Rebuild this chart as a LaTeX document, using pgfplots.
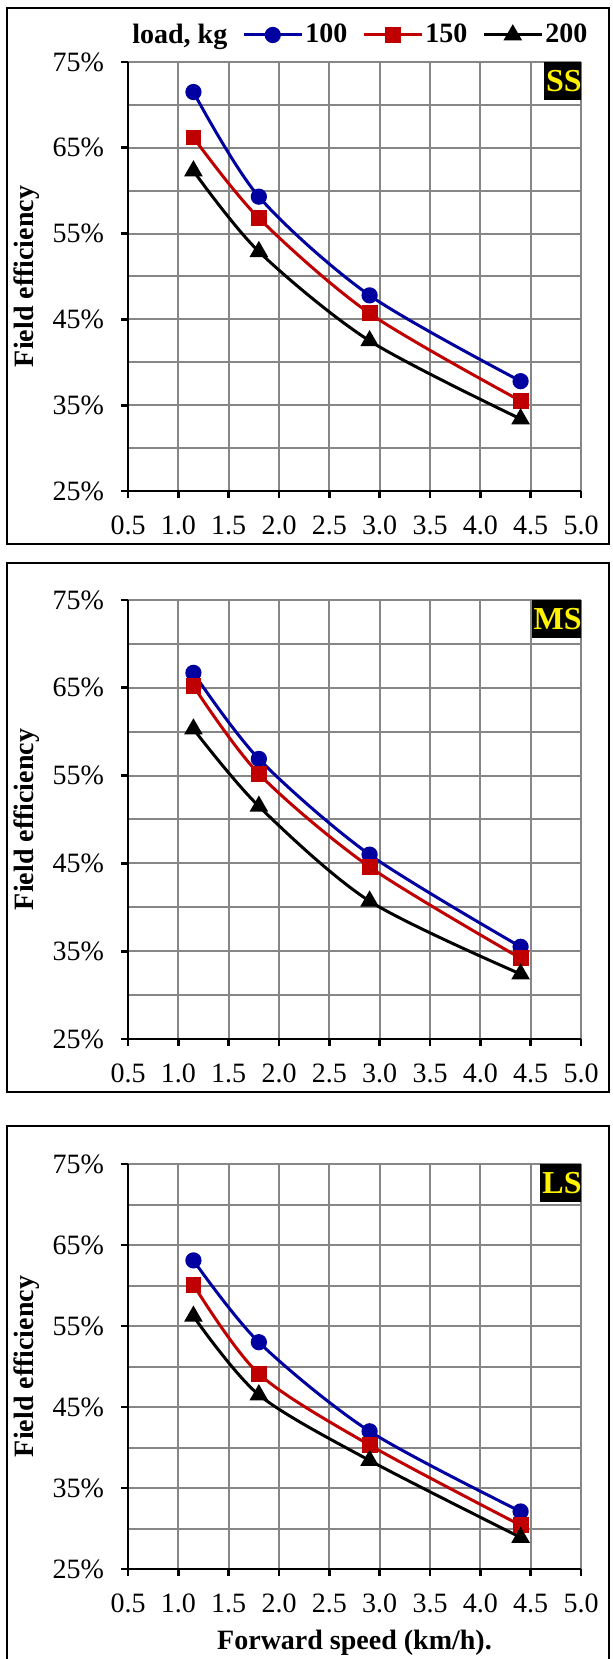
\documentclass[border=0pt]{standalone}
\usepackage{fontspec}
\setmainfont{Liberation Serif}
\usepackage{pgfplots}
\pgfplotsset{compat=1.18}
\definecolor{sblue}{RGB}{0,0,160}
\definecolor{sred}{RGB}{192,0,0}
\definecolor{gridgray}{RGB}{134,134,134}
\tikzset{tag/.style={anchor=north east, fill=black, text=yellow, font=\bfseries\fontsize{16bp}{18bp}\selectfont, inner sep=1bp, minimum height=19bp, xshift=1.5bp}}
\pgfplotsset{
  panel/.style={
    scale only axis, width=226.5bp,
    xmin=0.5, xmax=5, ymin=25, ymax=75,
    xtick={0.5,1.0,1.5,2.0,2.5,3.0,3.5,4.0,4.5,5.0},
    ytick={25,35,45,55,65,75}, minor ytick={30,40,50,60,70},
    grid=both,
    major grid style={gridgray, line width=1bp},
    minor grid style={gridgray, line width=1bp},
    axis x line=bottom, axis y line=left,
    axis line style={-, line width=1.4bp, black},
    tick align=outside, major tick length=3.5bp, minor tick length=0pt,
    tick style={black, line width=1.4bp},
    xticklabel={\pgfmathprintnumber[fixed,fixed zerofill,precision=1]{\tick}},
    yticklabel={\pgfmathprintnumber{\tick}\%},
    /pgf/number format/assume math mode=true,
    ticklabel style={font=\fontsize{14bp}{16bp}\selectfont},
    xticklabel style={yshift=-5.5bp},
    yticklabel style={xshift=-5bp},
    ylabel={Field efficiency},
    every axis y label/.style={at={(rel axis cs:0,0.5)}, rotate=90, anchor=center, yshift=50.5bp, font=\bfseries\fontsize{14bp}{16bp}\selectfont},
    every axis x label/.style={at={(rel axis cs:0.5,0)}, anchor=center, yshift=-37bp, font=\bfseries\fontsize{14bp}{16bp}\selectfont},
    legend image code/.code={\draw[mark repeat=2,mark phase=2] plot coordinates {(0bp,0bp) (14.5bp,0bp) (29bp,0bp)};},
  },
  s100/.style={sblue, line width=1.5bp, smooth, mark=*, mark size=3.3bp, mark options={solid}},
  s150/.style={sred, line width=1.5bp, smooth, mark=square*, mark size=3.2bp, mark options={solid}},
  s200/.style={black, line width=1.5bp, smooth, mark=triangle*, mark size=3.9bp, mark options={solid}},
}
\begin{document}
\begin{tikzpicture}
\useasboundingbox (0,0) rectangle (306.5bp,829.5bp);
% Panel SS
\begin{axis}[panel, at={(64bp,584bp)}, anchor=south west, height=214.5bp,
  legend style={draw=none, fill=none, legend columns=-1, at={(rel axis cs:0,1)}, anchor=west, yshift=13.5bp, xshift=-2bp,
    font=\bfseries\fontsize{14bp}{16bp}\selectfont, nodes={inner sep=1bp},
    /tikz/every even column/.append style={column sep=6.5bp}}]
\addlegendimage{empty legend}\addlegendentry{load, kg}
\addplot[s100] coordinates {(1.15,71.5) (1.8,59.3) (2.9,47.8) (4.4,37.8)};
\addlegendentry{100}
\addplot[s150] coordinates {(1.15,66.2) (1.8,56.8) (2.9,45.7) (4.4,35.5)};
\addlegendentry{150}
\addplot[s200] coordinates {(1.15,62.3) (1.8,52.9) (2.9,42.5) (4.4,33.4)};
\addlegendentry{200}
\node[tag] at (rel axis cs:1,1) {SS};
\end{axis}
% Panel MS
\begin{axis}[panel, at={(64bp,310bp)}, anchor=south west, height=219.5bp]
\addplot[s100] coordinates {(1.15,66.7) (1.8,56.9) (2.9,46.0) (4.4,35.5)};
\addplot[s150] coordinates {(1.15,65.2) (1.8,55.2) (2.9,44.6) (4.4,34.2)};
\addplot[s200] coordinates {(1.15,60.3) (1.8,51.5) (2.9,40.7) (4.4,32.4)};
\node[tag] at (rel axis cs:1,1) {MS};
\end{axis}
% Panel LS
\begin{axis}[panel, at={(64bp,45bp)}, anchor=south west, height=202.5bp, xlabel={Forward speed (km/h).}]
\addplot[s100] coordinates {(1.15,63.1) (1.8,53.0) (2.9,42.0) (4.4,32.1)};
\addplot[s150] coordinates {(1.15,60.1) (1.8,49.1) (2.9,40.3) (4.4,30.4)};
\addplot[s200] coordinates {(1.15,56.2) (1.8,46.5) (2.9,38.4) (4.4,28.9)};
\node[tag] at (rel axis cs:1,1) {LS};
\end{axis}
% Frames
\draw[line width=1.35bp] (3.5bp,557.5bp) rectangle (304.5bp,825.5bp);
\draw[line width=1.35bp] (3.5bp,283.5bp) rectangle (304.5bp,548bp);
\draw[line width=1.35bp] (3.5bp,-5bp) rectangle (304.5bp,266.5bp);
\end{tikzpicture}
\end{document}
